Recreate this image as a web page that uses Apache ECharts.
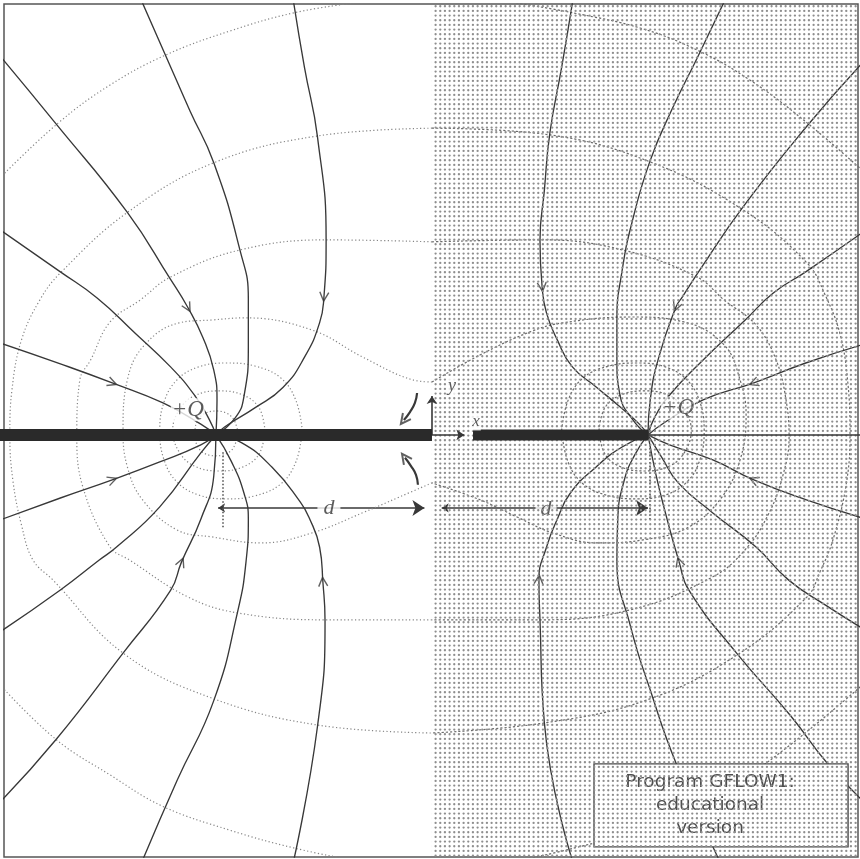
<!DOCTYPE html>
<html>
<head>
<meta charset="utf-8">
<script src="https://cdn.jsdelivr.net/npm/echarts@6/dist/echarts.min.js"></script>
<style>
  html, body { margin: 0; padding: 0; background: #fff; }
  #chart { width: 860px; height: 859px; }
</style>
</head>
<body>
<div id="chart"></div>
<script>
// Field lines (solid, arrows toward the charge) and equipotentials (dotted)
// of a charge +Q at distance d from the interface x = 0. Units: d.
// Left half-plane: white medium; right half-plane: stippled medium.

const X_MIN = -1.981, X_MAX = 1.972, Y_MIN = -1.954, Y_MAX = 1.995;

// ---- field lines, left half (from the outer end toward the charge at x = -d)
const fieldL1 = [[-1.34,2.00],[-1.23,1.75],[-1.12,1.50],[-1.01,1.26],[-0.89,0.86],[-0.85,0.63],[-0.85,0.41],[-0.87,0.18],[-0.91,0.08],[-1,0]];
const fieldL2 = [[-0.64,2.00],[-0.59,1.70],[-0.53,1.38],[-0.49,0.90],[-0.50,0.64],[-0.52,0.52],[-0.59,0.36],[-0.69,0.22],[-0.82,0.125],[-0.96,0.037],[-1,0]];
const fieldL3 = [[-2.0,1.755],[-1.74,1.44],[-1.41,1.03],[-1.21,0.72],[-1.13,0.59],[-1.06,0.45],[-1.01,0.30],[-0.995,0.16],[-1,0]];
const fieldL4 = [[-2.0,0.95],[-1.72,0.755],[-1.55,0.634],[-1.375,0.472],[-1.21,0.315],[-1.10,0.185],[-1.03,0.07],[-1,0]];
const fieldL5 = [[-2.0,0.426],[-1.72,0.329],[-1.48,0.241],[-1.245,0.148],[-1.07,0.05],[-1,0]];
const fieldL6 = [[-2.0,-0.394],[-1.72,-0.292],[-1.48,-0.208],[-1.26,-0.125],[-1.07,-0.046],[-1,0]];
const fieldL7 = [[-2.0,-0.912],[-1.72,-0.718],[-1.54,-0.579],[-1.46,-0.519],[-1.26,-0.333],[-1.07,-0.083],[-1,0]];
const fieldL8 = [[-2.0,-1.70],[-1.74,-1.41],[-1.43,-1.01],[-1.21,-0.72],[-1.16,-0.59],[-1.07,-0.39],[-1.01,-0.19],[-1,0]];
const fieldL9 = [[-1.34,-1.97],[-1.18,-1.60],[-1.01,-1.23],[-0.90,-0.82],[-0.86,-0.58],[-0.85,-0.39],[-0.87,-0.27],[-0.93,-0.12],[-1,0]];
const fieldL10 = [[-0.64,-1.97],[-0.53,-1.35],[-0.495,-0.86],[-0.505,-0.68],[-0.52,-0.52],[-0.57,-0.38],[-0.61,-0.31],[-0.74,-0.15],[-0.88,-0.037],[-1,0]];

// ---- field lines, right half (toward the charge at x = +d)
const fieldR1 = [[0.65,2.00],[0.60,1.70],[0.546,1.40],[0.52,1.13],[0.50,0.90],[0.51,0.685],[0.53,0.565],[0.58,0.44],[0.65,0.315],[0.76,0.222],[0.87,0.13],[0.96,0.05],[1,0]];
const fieldR2 = [[1.35,2.00],[1.23,1.75],[1.11,1.505],[1.01,1.27],[0.93,1.0],[0.88,0.76],[0.856,0.53],[0.856,0.35],[0.87,0.185],[0.93,0.07],[1,0]];
const fieldR3 = [[1.99,1.72],[1.74,1.435],[1.44,1.056],[1.24,0.764],[1.16,0.64],[1.13,0.593],[1.05,0.36],[1.01,0.16],[1,0]];
const fieldR4 = [[1.99,0.935],[1.73,0.755],[1.58,0.657],[1.45,0.532],[1.255,0.347],[1.10,0.185],[1.03,0.08],[1,0]];
const fieldR5 = [[1.99,0.417],[1.73,0.333],[1.49,0.241],[1.255,0.162],[1.08,0.06],[1,0]];
const fieldR6 = [[1.99,-0.384],[1.73,-0.30],[1.49,-0.208],[1.30,-0.116],[1.10,-0.046],[1,0]];
const fieldR7 = [[1.99,-0.894],[1.82,-0.787],[1.65,-0.671],[1.50,-0.519],[1.30,-0.361],[1.14,-0.222],[1.065,-0.106],[1,0]];
const fieldR8 = [[1.99,-1.69],[1.83,-1.52],[1.66,-1.30],[1.41,-1.01],[1.19,-0.72],[1.144,-0.588],[1.083,-0.37],[1.037,-0.185],[1,0]];
const fieldR9 = [[1.33,-1.97],[1.13,-1.52],[1.01,-1.18],[0.92,-0.89],[0.856,-0.58],[0.86,-0.39],[0.89,-0.21],[0.94,-0.09],[1,0]];
const fieldR10 = [[0.65,-1.97],[0.52,-1.33],[0.50,-0.856],[0.495,-0.67],[0.53,-0.52],[0.58,-0.39],[0.64,-0.27],[0.76,-0.148],[0.88,-0.056],[1,0]];

// arrowheads: [field line, index of the point carrying the arrow]
const arrowMarks = [
  [fieldL2,4],[fieldL3,4],[fieldL5,2],[fieldL6,2],[fieldL8,4],[fieldL10,3],
  [fieldR1,5],[fieldR3,5],[fieldR5,2],[fieldR6,2],[fieldR8,5],[fieldR10,3]
];

// ---- equipotentials, left half
const equiL1 = [[-0.36,2.0],[-0.64,1.954],[-0.935,1.87],[-1.23,1.76],[-1.49,1.62],[-1.73,1.444],[-2.0,1.19]];
const equiL1b = [[-0.36,-1.97],[-0.64,-1.912],[-0.935,-1.83],[-1.245,-1.72],[-1.49,-1.574],[-1.74,-1.41],[-2.0,-1.157]];
const equiL2 = [[0,1.42],[-0.53,1.384],[-1.01,1.26],[-1.41,1.03],[-1.72,0.75],[-1.815,0.625],[-1.90,0.44],[-1.944,0.21],[-1.954,0],[-1.94,-0.21],[-1.90,-0.417],[-1.847,-0.579],[-1.755,-0.671],[-1.43,-1.01],[-1.02,-1.218],[-0.53,-1.343],[0,-1.38]];
const equiL3 = [[0,0.894],[-0.49,0.903],[-0.89,0.856],[-1.21,0.731],[-1.35,0.625],[-1.49,0.523],[-1.58,0.347],[-1.63,0.255],[-1.644,0],[-1.616,-0.241],[-1.49,-0.519],[-1.40,-0.579],[-1.13,-0.75],[-0.90,-0.824],[-0.495,-0.856],[0,-0.856]];
const equiL4 = [[0,0.245],[-0.09,0.255],[-0.32,0.36],[-0.556,0.486],[-0.866,0.542],[-1.02,0.532],[-1.17,0.519],[-1.33,0.417],[-1.41,0.255],[-1.43,0.023],[-1.41,-0.148],[-1.34,-0.30],[-1.18,-0.44],[-1.02,-0.472],[-0.79,-0.5],[-0.556,-0.454],[-0.32,-0.36],[-0.15,-0.287],[0,-0.222]];
const equiL5 = [[-0.60,0.02],[-0.63,0.16],[-0.70,0.264],[-0.82,0.319],[-0.954,0.333],[-1.08,0.315],[-1.18,0.255],[-1.24,0.153],[-1.26,0.02],[-1.24,-0.116],[-1.18,-0.218],[-1.08,-0.278],[-0.954,-0.296],[-0.82,-0.282],[-0.70,-0.227],[-0.63,-0.125],[-0.60,0.02]];
const equiL6 = [[-0.773,0.02],[-0.80,0.125],[-0.875,0.185],[-0.986,0.204],[-1.10,0.181],[-1.17,0.116],[-1.20,0.02],[-1.17,-0.079],[-1.10,-0.144],[-0.986,-0.167],[-0.875,-0.148],[-0.80,-0.088],[-0.773,0.02]];
const equiL7 = [[-0.898,0.01],[-0.926,0.083],[-1.0,0.111],[-1.074,0.083],[-1.097,0.01],[-1.074,-0.069],[-1.0,-0.097],[-0.926,-0.069],[-0.898,0.01]];

// ---- equipotentials, right half
const equiR1 = [[0.39,2.0],[0.653,1.954],[0.963,1.884],[1.227,1.782],[1.47,1.644],[1.72,1.458],[1.99,1.227]];
const equiR1b = [[0.41,-1.97],[0.66,-1.912],[0.963,-1.83],[1.245,-1.72],[1.61,-1.472],[1.99,-1.16]];
const equiR2 = [[0,1.42],[0.546,1.389],[1.01,1.264],[1.44,1.042],[1.736,0.796],[1.82,0.648],[1.89,0.463],[1.926,0.231],[1.935,0],[1.917,-0.231],[1.856,-0.486],[1.796,-0.634],[1.736,-0.75],[1.41,-1.02],[0.995,-1.227],[0.523,-1.333],[0,-1.38]];
const equiR3 = [[0,0.894],[0.514,0.903],[0.884,0.856],[1.227,0.731],[1.352,0.625],[1.5,0.509],[1.593,0.347],[1.639,0.162],[1.653,-0.01],[1.625,-0.185],[1.556,-0.37],[1.449,-0.532],[1.30,-0.657],[0.917,-0.81],[0.5,-0.856],[0,-0.856]];
const equiR4 = [[0,0.245],[0.222,0.37],[0.454,0.477],[0.606,0.519],[0.917,0.546],[1.167,0.523],[1.352,0.417],[1.426,0.255],[1.454,0.093],[1.426,-0.116],[1.333,-0.30],[1.18,-0.431],[0.977,-0.486],[0.764,-0.5],[0.56,-0.454],[0.394,-0.38],[0.222,-0.30],[0,-0.222]];
const equiR5 = [[0.60,0.02],[0.63,0.16],[0.70,0.264],[0.82,0.319],[0.954,0.333],[1.08,0.315],[1.18,0.255],[1.24,0.153],[1.26,0.02],[1.24,-0.116],[1.18,-0.218],[1.08,-0.278],[0.954,-0.296],[0.82,-0.282],[0.70,-0.227],[0.63,-0.125],[0.60,0.02]];
const equiR6 = [[0.773,0.02],[0.80,0.125],[0.875,0.185],[0.986,0.204],[1.10,0.181],[1.17,0.116],[1.20,0.02],[1.17,-0.079],[1.10,-0.144],[0.986,-0.167],[0.875,-0.148],[0.80,-0.088],[0.773,0.02]];

// ---- conductor strips along the x axis, and the axis beyond the right charge
const stripLeft = [[-2.0,0],[0,0]];
const stripRight = [[0.19,0],[1,0]];
const axisBeyond = [[1,0],[2.0,0]];

// ---- small turning arrows beside the origin
const turnUpper = [[-0.069,0.194],[-0.079,0.148],[-0.102,0.106],[-0.130,0.069]];
const turnLower = [[-0.065,-0.231],[-0.074,-0.185],[-0.097,-0.144],[-0.125,-0.106]];

// ---- coordinate arrows and the two distance markers
const axisArrowX = [[0,0],[0.15,0]];
const axisArrowY = [[0,0],[0,0.18]];
const distLeft = [[-0.99,-0.338],[-0.035,-0.338]];
const distRight = [[0.045,-0.338],[1.0,-0.338]];
const extLeft = [[-0.97,-0.08],[-0.97,-0.43]];
const extRight = [[1.01,-0.06],[1.01,-0.40]];

// ---- caption box corners
const noteBox = [[0.75,-1.523],[1.926,-1.907]];
const noteText = 'Program GFLOW1:\neducational\nversion';

// ---------------------------------------------------------------------------
const INK = '#383838';

// halftone tile for the right half-plane
function makeDots() {
  const c = document.createElement('canvas');
  c.width = 14; c.height = 14;
  const g = c.getContext('2d');
  g.fillStyle = '#8e8e8e';
  const p = [1.6, 6.27, 10.93];
  for (const x of p) for (const y of p) {
    g.beginPath(); g.arc(x, y, 1.15, 0, Math.PI * 2); g.fill();
  }
  return c;
}
const dotPattern = { image: makeDots(), repeat: 'repeat' };

function curve(data, style, z, smooth) {
  return {
    type: 'line', data: data, smooth: smooth == null ? 0.5 : smooth, showSymbol: false, symbol: 'none',
    silent: true, z: z || 2, lineStyle: style, clip: true
  };
}
const fieldStyle = { color: INK, width: 1.35 };
const equiStyleL = { color: '#858585', width: 1.2, type: [1.2, 2.4] };
const equiStyleR = { color: '#6a6a6a', width: 1.2, type: [2.2, 2.0] };

const chevron = 'path://M0,9L4.5,0L9,9';
function headAt(line, i) {
  const a = line[i - 1], b = line[i + 1];
  const ang = Math.atan2(b[1] - a[1], b[0] - a[0]) * 180 / Math.PI;
  return { value: line[i], symbolRotate: ang - 90 };
}
function headEnd(line) {
  const n = line.length;
  const a = line[n - 2], b = line[n - 1];
  const ang = Math.atan2(b[1] - a[1], b[0] - a[0]) * 180 / Math.PI;
  return { value: b, symbolRotate: ang - 90 };
}

const series = [];
[equiL1, equiL1b, equiL2, equiL3, equiL4, equiL5, equiL6, equiL7].forEach(d => series.push(curve(d, equiStyleL, 2, 0.4)));
[equiR1, equiR1b, equiR2, equiR3, equiR4, equiR5, equiR6].forEach(d => series.push(curve(d, equiStyleR, 2, 0.4)));
[fieldL1, fieldL2, fieldL3, fieldL4, fieldL5, fieldL6, fieldL7, fieldL8, fieldL9, fieldL10,
 fieldR1, fieldR2, fieldR3, fieldR4, fieldR5, fieldR6, fieldR7, fieldR8, fieldR9, fieldR10]
  .forEach(d => series.push(curve(d, fieldStyle)));

// strips and axis line (kept above the halftone)
series.push({ type: 'line', data: stripLeft, showSymbol: false, symbol: 'none', silent: true, z: 7,
  lineStyle: { color: '#2a2a2a', width: 12, cap: 'butt' } });
series.push({ type: 'line', data: stripRight, showSymbol: false, symbol: 'none', silent: true, z: 7,
  lineStyle: { color: '#2a2a2a', width: 11, cap: 'butt' } });
series.push({ type: 'line', data: axisBeyond, showSymbol: false, symbol: 'none', silent: true, z: 7,
  lineStyle: { color: INK, width: 1.4 } });

// turning arrows
series.push(curve(turnUpper, { color: INK, width: 2.2 }));
series.push(curve(turnLower, { color: INK, width: 2.2 }));

// arrowheads on field lines
series.push({
  type: 'scatter', silent: true, z: 2, symbol: chevron, symbolSize: [9, 9],
  itemStyle: { color: 'none', borderColor: INK, borderWidth: 1.4 },
  data: arrowMarks.map(m => headAt(m[0], m[1]))
});
series.push({
  type: 'scatter', silent: true, z: 2, symbol: chevron, symbolSize: [10, 10],
  itemStyle: { color: 'none', borderColor: INK, borderWidth: 2 },
  data: [headEnd(turnUpper), headEnd(turnLower)]
});

// coordinate arrows, distance markers, extension lines
series.push({
  type: 'lines', coordinateSystem: 'cartesian2d', silent: true, z: 7,
  symbol: ['none', 'arrow'], symbolSize: 8,
  lineStyle: { color: INK, width: 1.6, opacity: 1 },
  data: [{ coords: axisArrowX }, { coords: axisArrowY }]
});
series.push({
  type: 'lines', coordinateSystem: 'cartesian2d', silent: true, z: 2,
  symbol: ['arrow', 'arrow'], symbolSize: [7, 12],
  lineStyle: { color: INK, width: 1.5, opacity: 1 },
  data: [{ coords: distLeft }, { coords: distRight }]
});
series.push({
  type: 'lines', coordinateSystem: 'cartesian2d', silent: true, z: 2,
  lineStyle: { color: '#555', width: 1.6, type: [1.5, 2], opacity: 1 },
  data: [{ coords: extLeft }, { coords: extRight }]
});

// text labels (white backing interrupts lines beneath)
const serifItalic = { fontFamily: 'Liberation Serif', fontStyle: 'italic', color: '#333' };
function tag(pos, text, size, bg, pad) {
  return {
    value: pos,
    label: Object.assign({ show: true, position: 'inside', formatter: text, fontSize: size,
      backgroundColor: bg, padding: pad }, serifItalic)
  };
}
series.push({
  type: 'scatter', silent: true, z: 3, symbolSize: 0,
  data: [
    tag([-1.13, 0.116], '+Q', 23, '#fff', [0, 1]),
    tag([1.139, 0.125], '+Q', 23, '#fff', [0, 1]),
    tag([-0.477, -0.338], 'd', 22, '#fff', [0, 6]),
    tag([0.528, -0.342], 'd', 22, '#fff', [0, 5])
  ]
});
series.push({
  type: 'scatter', silent: true, z: 8, symbolSize: 0,
  data: [
    tag([0.093, 0.227], 'y', 18, '#fff', [0, 1]),
    tag([0.204, 0.06], 'x', 17, '#fff', [0, 1])
  ]
});

// caption box
series.push({
  type: 'custom', silent: true, z: 3, data: [[0, 0]],
  renderItem: function (params, api) {
    const a = api.coord(noteBox[0]), b = api.coord(noteBox[1]);
    return {
      type: 'group',
      children: [
        { type: 'rect', shape: { x: a[0], y: a[1], width: b[0] - a[0], height: b[1] - a[1] },
          style: { fill: '#fff', stroke: '#4a4a4a', lineWidth: 1.4 } },
        { type: 'text', x: (a[0] + b[0]) / 2 - 11, y: (a[1] + b[1]) / 2,
          style: { text: noteText, fontFamily: 'DejaVu Sans', fontSize: 18.5, lineHeight: 23,
            fill: '#4d4d4d', align: 'center', verticalAlign: 'middle' } }
      ]
    };
  }
});

// halftone over the right half-plane
series.push({
  type: 'custom', silent: true, z: 5, data: [[0, 0]],
  renderItem: function (params, api) {
    const a = api.coord([0, Y_MAX]), b = api.coord([X_MAX, Y_MIN]);
    return { type: 'rect', shape: { x: a[0], y: a[1], width: b[0] - a[0], height: b[1] - a[1] },
      style: { fill: dotPattern } };
  }
});

const chart = echarts.init(document.getElementById('chart'), null, { renderer: 'canvas' });
chart.setOption({
  animation: false,
  backgroundColor: '#fff',
  grid: { left: 4, right: 2, top: 4, bottom: 2, show: true, borderColor: '#555', borderWidth: 1.5,
    backgroundColor: '#fff' },
  xAxis: { type: 'value', min: X_MIN, max: X_MAX, show: false },
  yAxis: { type: 'value', min: Y_MIN, max: Y_MAX, show: false },
  series: series
});
</script>
</body>
</html>
